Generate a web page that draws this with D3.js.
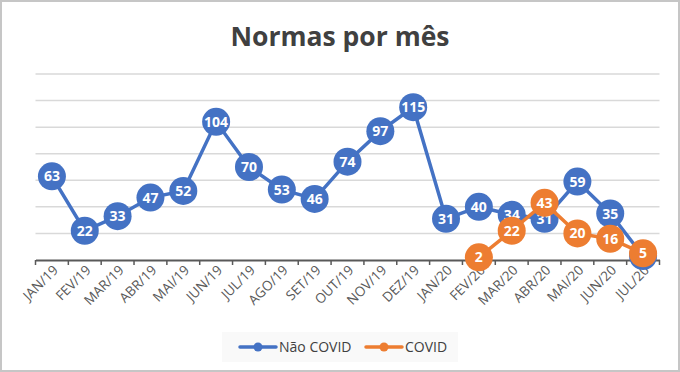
<!DOCTYPE html>
<html><head><meta charset="utf-8">
<script src="https://cdn.jsdelivr.net/npm/d3@7"></script>
<style>body{margin:0;background:#fff}svg{display:block}</style>
</head><body>
<script>
const categories = ["JAN/19","FEV/19","MAR/19","ABR/19","MAI/19","JUN/19","JUL/19","AGO/19","SET/19","OUT/19","NOV/19","DEZ/19","JAN/20","FEV/20","MAR/20","ABR/20","MAI/20","JUN/20","JUL/20"];
const naoCovid = [63,22,33,47,52,104,70,53,46,74,97,115,31,40,34,31,59,35,3];
const covid = [null,null,null,null,null,null,null,null,null,null,null,null,null,2,22,43,20,16,5];
const yTicks = [0,20,40,60,80,100,120,140];
const seriesNames = ["Não COVID","COVID"];
const colors = ["#4472C4","#ED7D31"];

const W=680,H=372;
const svg=d3.select("body").append("svg").attr("width",W).attr("height",H);
const font="'Open Sans', 'Segoe UI', sans-serif";
svg.append("rect").attr("x",1).attr("y",1).attr("width",W-2).attr("height",H-2)
  .attr("fill","#fff").attr("stroke","#c6c6c6").attr("stroke-width",2);

svg.append("text").attr("x",340).attr("y",46).attr("text-anchor","middle")
  .attr("font-family",font).attr("font-weight","bold").attr("font-size",26.5)
  .attr("fill","#404040").text("Normas por mês");

const x=d3.scaleBand().domain(categories).range([35.5,659.5]);
const y=d3.scaleLinear().domain([0,140]).range([260,74]);

const g=svg.append("g");
g.selectAll("line.grid").data(yTicks.slice(1)).enter().append("line")
  .attr("x1",35.5).attr("x2",659.5).attr("y1",d=>y(d)).attr("y2",d=>y(d))
  .attr("stroke","#d9d9d9").attr("stroke-width",1.5);

const xAxis=d3.axisBottom(x).tickSize(0).tickPadding(0);
const ax=svg.append("g").attr("transform","translate(0,260)").call(xAxis);
ax.select(".domain").attr("stroke","#595959").attr("stroke-width",2);
ax.selectAll(".tick text").remove();
const bounds=categories.map(c=>x(c)).concat([x(categories[categories.length-1])+x.bandwidth()]);
svg.selectAll("line.tk").data(bounds).enter().append("line")
  .attr("x1",d=>d).attr("x2",d=>d).attr("y1",260).attr("y2",265)
  .attr("stroke","#595959").attr("stroke-width",1.5);
svg.selectAll("text.xl").data(categories).enter().append("text")
  .attr("transform",d=>`translate(${x(d)+x.bandwidth()/2+7},${271}) rotate(-45)`)
  .attr("text-anchor","end").attr("font-family",font).attr("font-size",13.5)
  .attr("fill","#595959").text(d=>d);

const cx=i=>x(categories[i])+x.bandwidth()/2;
[naoCovid,covid].forEach((vals,si)=>{
  const pts=vals.map((v,i)=>({v,i})).filter(d=>d.v!==null);
  const line=d3.line().x(d=>cx(d.i)).y(d=>y(d.v));
  svg.append("path").attr("d",line(pts)).attr("fill","none")
    .attr("stroke",colors[si]).attr("stroke-width",3.5);
  const pg=svg.append("g");
  pg.selectAll("circle").data(pts).enter().append("circle")
    .attr("cx",d=>cx(d.i)).attr("cy",d=>y(d.v)).attr("r",14)
    .attr("fill",colors[si]);
  pg.selectAll("text").data(pts).enter().append("text")
    .attr("x",d=>cx(d.i)).attr("y",d=>y(d.v)+5).attr("text-anchor","middle")
    .attr("font-family",font).attr("font-weight","bold").attr("font-size",14)
    .attr("fill","#fff").text(d=>d.v);
});

const lg=svg.append("g");
lg.append("rect").attr("x",222).attr("y",332).attr("width",236).attr("height",30).attr("fill","#f9f9f9");
const lx=[240,366];
seriesNames.forEach((n,i)=>{
  lg.append("line").attr("x1",lx[i]).attr("x2",lx[i]+36).attr("y1",347).attr("y2",347)
    .attr("stroke",colors[i]).attr("stroke-width",3.5).attr("stroke-linecap","round");
  lg.append("circle").attr("cx",lx[i]+18).attr("cy",347).attr("r",4.5).attr("fill",colors[i]);
  lg.append("text").attr("x",lx[i]+39).attr("y",352).attr("font-family",font)
    .attr("font-size",14).attr("fill","#404040").text(n);
});
</script>
</body></html>
